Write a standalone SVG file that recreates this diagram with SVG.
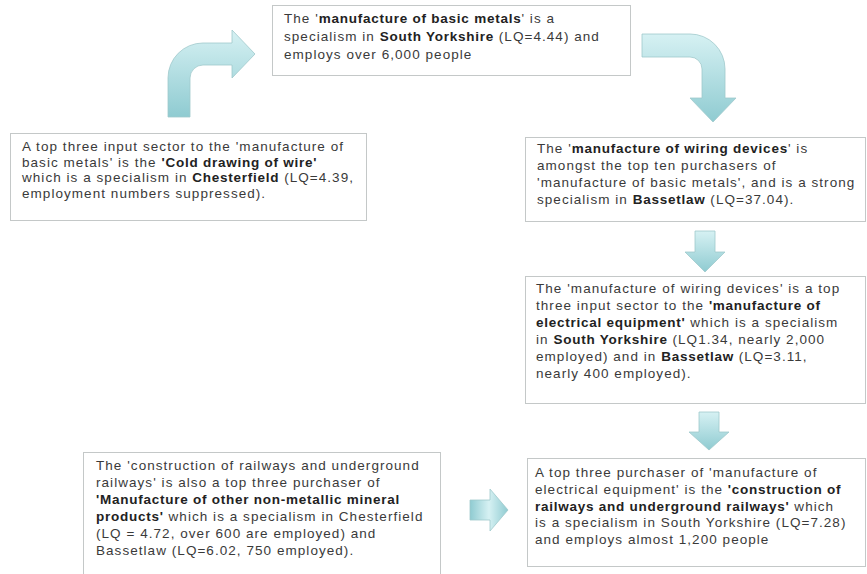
<svg xmlns="http://www.w3.org/2000/svg" width="867" height="574" viewBox="0 0 867 574">
<defs>
<linearGradient id="gv" x1="0" y1="0" x2="0" y2="1">
<stop offset="0" stop-color="#d6f1f3"/>
<stop offset="1" stop-color="#8fcbd1"/>
</linearGradient>
<linearGradient id="gh" x1="0" y1="0" x2="1" y2="0">
<stop offset="0" stop-color="#8fcbd1"/>
<stop offset="0.5" stop-color="#d6f1f3"/>
<stop offset="1" stop-color="#8fcbd1"/>
</linearGradient>
</defs>
<style>
.box{fill:#ffffff;stroke:#c4c8c8;stroke-width:1}
.t{font-family:"Liberation Sans",Arial,sans-serif;font-size:13.5px;letter-spacing:1.05px;fill:#3a3a3a}
.b{font-weight:bold;fill:#222222;letter-spacing:0.75px}
.arr{fill:url(#gv);stroke:#9fc9cc;stroke-width:0.8}
.arrh{fill:url(#gh);stroke:#9fc9cc;stroke-width:0.8}
</style>
<rect width="867" height="574" fill="#ffffff"/>

<g id="connectors">
<path class="arr" d="M168,117 L168,78 A35,35 0 0 1 203,43 L232,43 L232,30 L255,54 L232,78 L232,65 L203,65 A13,13 0 0 0 190,78 L190,117 Z"/>
<path class="arr" d="M642,34 L690,34 A35,35 0 0 1 725,69 L725,98 L736,98 L713,122 L690,98 L702,98 L702,69 A12,12 0 0 0 690,57 L642,57 Z"/>
<path class="arr" d="M695,231 L715,231 L715,252 L725,252 L705,272 L685,252 L695,252 Z"/>
<path class="arr" d="M699,412 L719,412 L719,432 L729,432 L709,450 L689,432 L699,432 Z"/>
<path class="arrh" d="M470,500 L490,500 L490,489 L508,510 L490,531 L490,520 L470,520 Z"/>
</g>

<g id="node-basic-metals">
<rect class="box" x="272.5" y="5.5" width="358" height="70"/>
<text class="t" x="284" y="23">The '<tspan class="b">manufacture of basic metals</tspan>' is a</text>
<text class="t" x="284" y="41">specialism in <tspan class="b">South Yorkshire</tspan> (LQ=4.44) and</text>
<text class="t" x="284" y="59">employs over 6,000 people</text>
</g>

<g id="node-cold-drawing">
<rect class="box" x="10.5" y="133.5" width="356" height="87"/>
<text class="t" x="22" y="151">A top three input sector to the 'manufacture of</text>
<text class="t" x="22" y="166.5">basic metals' is the <tspan class="b">'Cold drawing of wire'</tspan></text>
<text class="t" x="22" y="182">which is a specialism in <tspan class="b">Chesterfield</tspan> (LQ=4.39,</text>
<text class="t" x="22" y="197.5">employment numbers suppressed).</text>
</g>

<g id="node-wiring-devices">
<rect class="box" x="525.5" y="137.5" width="340" height="84"/>
<text class="t" x="537" y="153">The '<tspan class="b">manufacture of wiring devices</tspan>' is</text>
<text class="t" x="537" y="170">amongst the top ten purchasers of</text>
<text class="t" x="537" y="187">'manufacture of basic metals', and is a strong</text>
<text class="t" x="537" y="204">specialism in <tspan class="b">Bassetlaw</tspan> (LQ=37.04).</text>
</g>

<g id="node-electrical-equipment">
<rect class="box" x="525.5" y="276.5" width="340" height="127"/>
<text class="t" x="536" y="293">The 'manufacture of wiring devices' is a top</text>
<text class="t" x="536" y="310">three input sector to the <tspan class="b">'manufacture of</tspan></text>
<text class="t" x="536" y="327"><tspan class="b">electrical equipment'</tspan> which is a specialism</text>
<text class="t" x="536" y="344">in <tspan class="b">South Yorkshire</tspan> (LQ1.34, nearly 2,000</text>
<text class="t" x="536" y="361">employed) and in <tspan class="b">Bassetlaw</tspan> (LQ=3.11,</text>
<text class="t" x="536" y="378">nearly 400 employed).</text>
</g>

<g id="node-railways">
<rect class="box" x="527.5" y="458.5" width="338" height="108"/>
<text class="t" x="535" y="477">A top three purchaser of 'manufacture of</text>
<text class="t" x="535" y="494">electrical equipment' is the <tspan class="b">'construction of</tspan></text>
<text class="t" x="535" y="510.5"><tspan class="b">railways and underground railways'</tspan> which</text>
<text class="t" x="535" y="527">is a specialism in South Yorkshire (LQ=7.28)</text>
<text class="t" x="535" y="543.5">and employs almost 1,200 people</text>
</g>

<g id="node-non-metallic">
<rect class="box" x="83.5" y="452.5" width="357" height="125"/>
<text class="t" x="96" y="470">The 'construction of railways and underground</text>
<text class="t" x="96" y="487">railways' is also a top three purchaser of</text>
<text class="t" x="96" y="504"><tspan class="b">'Manufacture of other non-metallic mineral</tspan></text>
<text class="t" x="96" y="521"><tspan class="b">products'</tspan> which is a specialism in Chesterfield</text>
<text class="t" x="96" y="538">(LQ = 4.72, over 600 are employed) and</text>
<text class="t" x="96" y="555">Bassetlaw (LQ=6.02, 750 employed).</text>
</g>
</svg>
